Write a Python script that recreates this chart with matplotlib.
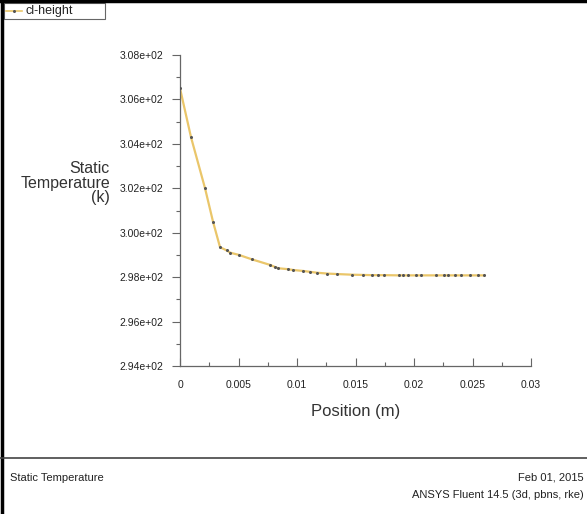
import matplotlib
matplotlib.use("Agg")
import matplotlib.pyplot as plt
from matplotlib.ticker import FuncFormatter, MultipleLocator
from matplotlib.lines import Line2D
from matplotlib.patches import Rectangle

# Centre-line temperature profile along the height
position = [0, 0.00094, 0.00214, 0.00282, 0.00342, 0.0040, 0.0043, 0.00504,
            0.00615, 0.0077, 0.0081, 0.0084, 0.0092, 0.0097, 0.0105, 0.0111,
            0.0117, 0.0126, 0.0134, 0.0147, 0.0156, 0.0164, 0.0169, 0.0174,
            0.0187, 0.0191, 0.0195, 0.0202, 0.0206, 0.0219, 0.0226, 0.0229,
            0.0235, 0.0240, 0.0248, 0.0255, 0.0260]
temperature = [306.5, 304.3, 302.0, 300.5, 299.35, 299.2, 299.1, 299.0,
               298.8, 298.55, 298.46, 298.4, 298.36, 298.32, 298.28, 298.24,
               298.2, 298.16, 298.14, 298.11, 298.1, 298.09, 298.09, 298.09,
               298.08, 298.08, 298.08, 298.08, 298.08, 298.08, 298.08, 298.08,
               298.08, 298.08, 298.08, 298.08, 298.08]
series_name = "cl-height"
x_ticks = [0, 0.005, 0.01, 0.015, 0.02, 0.025, 0.03]
x_tick_labels = ["0", "0.005", "0.01", "0.015", "0.02", "0.025", "0.03"]
y_ticks = [294, 296, 298, 300, 302, 304, 306, 308]

NARROW = ["Liberation Sans Narrow", "Liberation Sans", "DejaVu Sans"]
SANS = ["Liberation Sans", "DejaVu Sans"]
LINE_COLOR = "#eac66a"

W, H = 587, 514
fig = plt.figure(figsize=(W / 100, H / 100), dpi=100)

ax = fig.add_axes([180 / W, 1 - 366 / H, (531 - 180) / W, (366 - 55) / H])
ax.plot(position, temperature, color=LINE_COLOR, lw=1.6, zorder=2)
ax.plot(position, temperature, ls="none", marker="o", ms=1.2,
        color="#555555", zorder=3)

ax.set_xlim(0, 0.03)
ax.set_ylim(294, 308)
for s in ("top", "right"):
    ax.spines[s].set_visible(False)
for s in ("left", "bottom"):
    ax.spines[s].set_color("#666666")
    ax.spines[s].set_linewidth(0.9)

ax.set_xticks(x_ticks)
ax.set_xticklabels(x_tick_labels)
ax.set_yticks(y_ticks)
ax.yaxis.set_major_formatter(FuncFormatter(lambda v, p: f"{v:.2e}"))
ax.xaxis.set_minor_locator(MultipleLocator(0.0025))
ax.yaxis.set_minor_locator(MultipleLocator(1))

ax.tick_params(axis="x", which="major", direction="in", length=6,
               width=0.8, color="#666666", pad=10, labelsize=7.5)
ax.tick_params(axis="x", which="minor", direction="in", length=3,
               width=0.8, color="#666666")
ax.tick_params(axis="y", which="major", direction="out", length=6,
               width=0.8, color="#666666", pad=6, labelsize=7.5)
ax.tick_params(axis="y", which="minor", direction="out", length=3,
               width=0.8, color="#666666")
for lab in ax.get_xticklabels() + ax.get_yticklabels():
    lab.set_family(NARROW)
    lab.set_color("#222222")

ax.set_xlabel("Position (m)", family=SANS, fontsize=12, color="#333333",
              labelpad=10)

fig.text(110 / W, 1 - 183 / H, "Static\nTemperature\n(k)", family=SANS,
         fontsize=11.5, color="#333333", ha="right", va="center",
         multialignment="right", linespacing=0.95)

# Legend box
fig.patches.append(Rectangle((4 / W, 1 - 19 / H), 101 / W, 16 / H,
                             transform=fig.transFigure, fill=False,
                             edgecolor="#666666", lw=0.8))
fig.lines.append(Line2D([6 / W, 22 / W], [1 - 11 / H, 1 - 11 / H],
                        transform=fig.transFigure, color=LINE_COLOR, lw=1.2))
fig.lines.append(Line2D([14 / W], [1 - 11 / H], transform=fig.transFigure,
                        marker="o", ms=1.2, color="#555555"))
fig.text(25 / W, 1 - 11 / H, series_name, family=NARROW, fontsize=9,
         color="#222222", va="center", ha="left")

# Outer frame and footer separator
fig.lines.append(Line2D([2 / W, 2 / W], [0, 1], transform=fig.transFigure,
                        color="black", lw=2.5))
fig.lines.append(Line2D([0, 1], [1 - 1 / H, 1 - 1 / H],
                        transform=fig.transFigure, color="black", lw=2.5))
fig.lines.append(Line2D([0, 1], [1 - 458 / H, 1 - 458 / H],
                        transform=fig.transFigure, color="#444444", lw=1.2))

fig.text(10 / W, 1 - 478 / H, "Static Temperature", family=NARROW,
         fontsize=8, color="#222222", va="center", ha="left")
fig.text(584 / W, 1 - 478 / H, "Feb 01, 2015", family=NARROW,
         fontsize=8, color="#222222", va="center", ha="right")
fig.text(584 / W, 1 - 495 / H, "ANSYS Fluent 14.5 (3d, pbns, rke)",
         family=NARROW, fontsize=8, color="#222222", va="center",
         ha="right")

fig.savefig("out.png", dpi=100)
